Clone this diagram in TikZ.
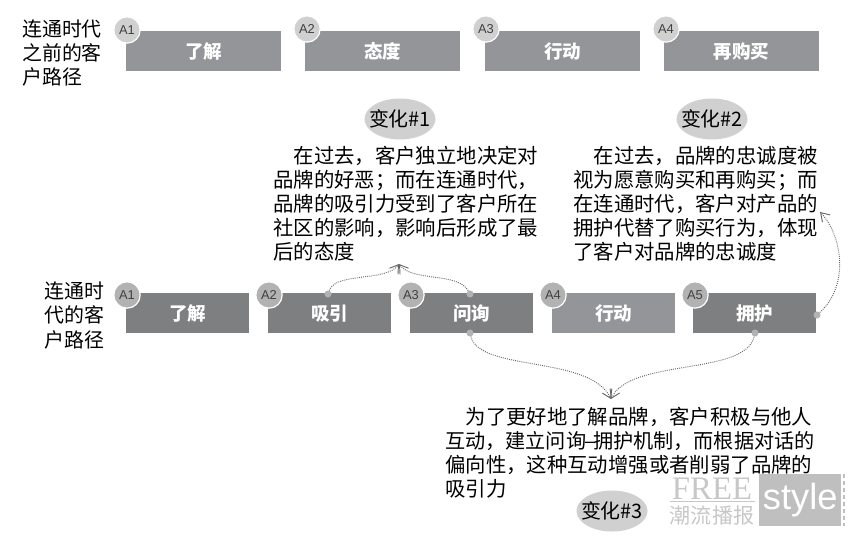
\documentclass[tikz,border=0pt]{standalone}
\usepackage{xcolor}
\usepackage{fontspec}
\usepackage{tikz}
\usetikzlibrary{arrows.meta,positioning,shapes.geometric}
\setmainfont{Liberation Sans}
\newfontfamily\cjk{Noto Sans CJK SC}
\newfontfamily\wmserif{Liberation Serif}
\definecolor{boxtop}{HTML}{939598}
\definecolor{boxlow}{HTML}{7E7F81}
\definecolor{badgetop}{HTML}{D0D0D0}
\definecolor{badgelow}{HTML}{B2B2B2}
\definecolor{linkgray}{HTML}{666666}
\tikzset{
  stagebox/.style={draw=none, anchor=north west, minimum height=34.1pt, inner sep=0pt, text=white, font=\cjk\bfseries\fontsize{15.8pt}{18pt}\selectfont},
  badge/.style={circle, draw=white, line width=1pt, minimum size=22.5pt, inner sep=0pt, text=black!75, font=\fontsize{11pt}{12pt}\selectfont},
  sidetext/.style={anchor=north west, inner sep=0pt, align=left, font=\cjk\fontsize{17pt}{20.5pt}\selectfont},
  bodytext/.style={anchor=north west, inner sep=0pt, align=left, font=\cjk\fontsize{17.4pt}{20.5pt}\selectfont},
  change/.style={ellipse, fill=badgetop, minimum width=58pt, minimum height=35pt, inner xsep=-5pt, inner ysep=0pt, font=\cjk\fontsize{17pt}{20pt}\selectfont},
  dot/.style={circle, fill=badgelow, minimum size=6pt, inner sep=0pt},
  link/.style={densely dotted, linkgray, line width=0.8pt},
  linkarrow/.style={link, -{Straight Barb[length=7pt,width=9pt]}}
}
\begin{document}
\begin{tikzpicture}[x=0.03cm,y=-0.03cm]
\useasboundingbox (0,0) rectangle (851,539);
% path before the connected era
\node[sidetext] (oldtitle) at (22,20) {连通时代\\之前的客\\户路径};
\node[stagebox, fill=boxtop, minimum width=132pt] (old1) at (126,31) {了解};
\node[stagebox, fill=boxtop, minimum width=132pt] (old2) at (305,31) {态度};
\node[stagebox, fill=boxtop, minimum width=132pt] (old3) at (485,31) {行动};
\node[stagebox, fill=boxtop, minimum width=132pt] (old4) at (664,31) {再购买};
\node[badge, fill=badgetop] (oldA1) at (127,30) {A1};
\node[badge, fill=badgetop] (oldA2) at (307,29) {A2};
\node[badge, fill=badgetop] (oldA3) at (486,29) {A3};
\node[badge, fill=badgetop] (oldA4) at (666,29) {A4};
% path in the connected era
\node[sidetext] (newtitle) at (44,282) {连通时\\代的客\\户路径};
\node[stagebox, fill=boxlow, minimum width=105pt] (new1) at (126,293) {了解};
\node[stagebox, fill=boxlow, minimum width=105pt] (new2) at (268,293) {吸引};
\node[stagebox, fill=boxlow, minimum width=105pt] (new3) at (410,293) {问询};
\node[stagebox, fill=boxtop, minimum width=105pt] (new4) at (552,293) {行动};
\node[stagebox, fill=boxlow, minimum width=105pt] (new5) at (693,293) {拥护};
\node[badge, fill=badgelow] (newA1) at (127,295) {A1};
\node[badge, fill=badgelow] (newA2) at (269,295) {A2};
\node[badge, fill=badgelow] (newA3) at (411,295) {A3};
\node[badge, fill=badgelow] (newA4) at (553,295) {A4};
\node[badge, fill=badgelow] (newA5) at (695,295) {A5};
% changes
\node[change] (ch1) at (400,119) {变化\#1};
\node[change] (ch2) at (712,119) {变化\#2};
\node[change] (ch3) at (612,511) {变化\#3};
\node[bodytext] (text1) at (273,146) {\hspace*{1em}在过去，客户独立地决定对\\品牌的好恶；而在连通时代，\\品牌的吸引力受到了客户所在\\社区的影响，影响后形成了最\\后的态度};
\node[bodytext] (text2) at (573,146) {\hspace*{1em}在过去，品牌的忠诚度被\\视为愿意购买和再购买；而\\在连通时代，客户对产品的\\拥护代替了购买行为，体现\\了客户对品牌的忠诚度};
\node[bodytext] (text3) at (445,407) {\hspace*{1em}为了更好地了解品牌，客户积极与他人\\{\fontsize{17.2pt}{20.5pt}\selectfont 互动，建立问询\kern-0.1em–\kern-0.1em拥护机制，而根据对话的}\\偏向性，这种互动增强或者削弱了品牌的\\吸引力};
% connectors
\node[dot] (dotA) at (328,294) {};
\node[dot] (dotB) at (470,294) {};
\node[dot] (dotC) at (470,333) {};
\node[dot] (dotD) at (755,333) {};
\node[dot] (dotE) at (817,315) {};
\coordinate (tipA) at (399,264);
\coordinate (tipB) at (611,399);
\coordinate (tipC) at (820,212);
\draw[linkarrow] (dotA) .. controls (336,272) and (386,282) .. (tipA);
\draw[linkarrow] (dotB) .. controls (458,272) and (412,282) .. (tipA);
\draw[linkarrow] (dotC) .. controls (480,372) and (590,355) .. (tipB);
\draw[linkarrow] (dotD) .. controls (745,376) and (630,358) .. (tipB);
\draw[linkarrow] (dotE) .. controls (850,285) and (842,235) .. (tipC);
% watermark
\node[inner sep=0pt, text=black!22, font=\wmserif\fontsize{28pt}{28pt}\selectfont] (wmfree) at (712,489) {FREE};
\draw[black!22, line width=0.8pt] (670,501) -- (755,501);
\node[inner sep=0pt, text=black!22, font=\cjk\fontsize{18pt}{20pt}\selectfont] (wmname) at (712,516) {潮流播报};
\node[anchor=north west, fill=black!25, minimum width=70pt, minimum height=44.4pt, inner sep=0pt, text=white, font=\fontsize{31pt}{32pt}\selectfont] (wmstyle) at (759,474) {style};
\draw[black!25, line width=2.5pt, dashed] (844,474) -- (844,526);
\end{tikzpicture}
\end{document}
